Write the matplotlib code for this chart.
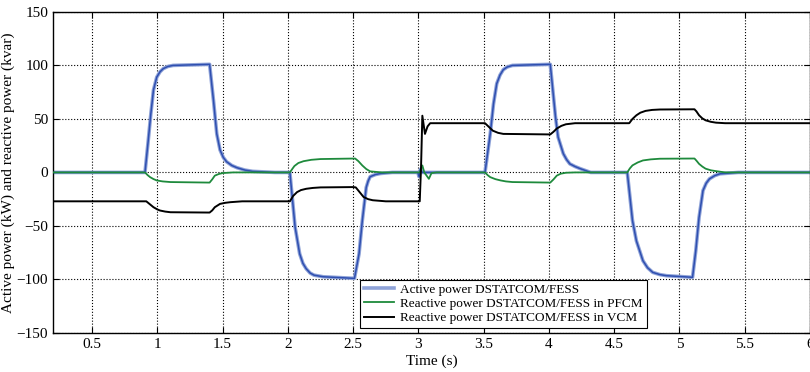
import matplotlib
matplotlib.use('Agg')
import matplotlib.pyplot as plt
from matplotlib.ticker import FuncFormatter

plt.rcParams['font.family'] = ['Liberation Serif', 'DejaVu Serif']

# active power DSTATCOM/FESS (kW)
t_p = [0.2, 0.905, 0.93, 0.95, 0.97, 0.995, 1.02, 1.045, 1.08, 1.12, 1.40, 1.43, 1.455,
       1.48, 1.505, 1.53, 1.57, 1.61, 1.67, 1.73, 1.9, 2.015, 2.055, 2.09, 2.115, 2.14,
       2.17, 2.2, 2.27, 2.35, 2.51, 2.545, 2.57, 2.60, 2.615, 2.63, 2.67, 2.71, 2.8,
       2.995, 3.005, 3.015, 3.03, 3.51, 3.55, 3.575, 3.60, 3.625, 3.65, 3.68, 3.72,
       4.01, 4.05, 4.07, 4.11, 4.135, 4.16, 4.2, 4.24, 4.32, 4.60, 4.64, 4.67, 4.72,
       4.755, 4.795, 4.85, 4.90, 5.10, 5.125, 5.15, 5.18, 5.205, 5.23, 5.27, 5.31,
       5.45, 6.0]
p_active = [0, 0, 30, 55, 77, 89, 94, 97, 99, 100, 101, 67, 36,
            21, 14, 10, 6.5, 4.4, 2.2, 1, 0, 0, -51, -76, -85, -90,
            -94, -96, -97.5, -98, -99, -76, -45, -14, -8, -4, -2, -1, 0,
            0, -4, 3, 0, 0, 36, 64, 83, 91, 96, 98.5, 100,
            101, 52, 33, 17.5, 12, 8, 5.5, 3.5, 0, 0, -45, -64, -82.5,
            -89, -93.4, -95.5, -96.5, -98, -73, -42, -17, -10, -6, -3, -1.3,
            0, 0]

# reactive power in PFCM (kvar)
t_q1 = [0.2, 0.905, 0.925, 0.944, 0.97, 0.995, 1.04, 1.10, 1.40, 1.42, 1.44, 1.47, 1.50,
        1.58, 2.015, 2.035, 2.05, 2.08, 2.12, 2.18, 2.25, 2.515, 2.54, 2.57, 2.60, 2.63,
        2.72, 3.01, 3.03, 3.045, 3.08, 3.10, 3.14, 3.51, 3.53, 3.55, 3.59, 3.63, 3.67,
        3.72, 4.01, 4.035, 4.06, 4.09, 4.13, 4.2, 4.60, 4.62, 4.64, 4.68, 4.72, 4.78,
        4.85, 5.115, 5.13, 5.15, 5.175, 5.20, 5.24, 5.28, 5.35, 6.0]
q_pfcm = [0, 0, -2.5, -4.4, -6.2, -7.5, -8.4, -9, -9.5, -6.5, -3, -1.5, -0.6,
          0, 0, 3.5, 6, 8.8, 10.5, 11.8, 12.5, 13, 10.5, 6.5, 3.2, 1,
          0, 0, 6.5, 0, -6, -0.6, 0, 0, -2.5, -4.4, -6.3, -7.5, -8.4,
          -9, -9.5, -6.5, -3, -1.2, -0.3, 0, 0, 3.8, 6.6, 9.3, 11.2, 12.2,
          12.8, 13, 11, 8, 5.5, 3.5, 2, 1.2, 0, 0]

# reactive power in VCM (kvar)
t_q2 = [0.2, 0.915, 0.94, 0.97, 1.0, 1.02, 1.06, 1.10, 1.40, 1.42, 1.44, 1.48, 1.52,
        1.56, 1.65, 2.015, 2.04, 2.07, 2.10, 2.14, 2.19, 2.25, 2.50, 2.52, 2.55, 2.58,
        2.615, 2.65, 2.75, 3.01, 3.02, 3.03, 3.05, 3.07, 3.09, 3.51, 3.54, 3.57, 3.61,
        3.65, 4.01, 4.035, 4.06, 4.095, 4.13, 4.2, 4.615, 4.64, 4.67, 4.70, 4.74, 4.79,
        4.85, 5.115, 5.13, 5.15, 5.175, 5.20, 5.24, 5.28, 5.35, 6.0]
q_vcm = [-27, -27, -29.5, -32.5, -34.6, -35.6, -36.6, -37.2, -37.5, -35.5, -32.5, -29.4, -28.4,
         -27.8, -27, -27, -22, -18.4, -16.5, -15.3, -14.5, -14, -13.7, -14, -18.5, -23,
         -25, -26, -27, -27, 5, 53, 36, 43, 46, 46, 42.5, 39, 37, 36,
         35.5, 38, 41, 43.5, 45, 46, 46, 50, 53.4, 55.8, 57.5, 58.4,
         58.8, 59, 57, 53.4, 50.5, 48.7, 47.3, 46.5, 46, 46]

labels = ['Active power DSTATCOM/FESS',
          'Reactive power DSTATCOM/FESS in PFCM',
          'Reactive power DSTATCOM/FESS in VCM']

fig = plt.figure(figsize=(8.1, 3.72), dpi=100)
ax = fig.add_axes([0.0654, 0.105, 0.9346, 0.863])

ax.plot(t_p, p_active, color='#8fa3d8', lw=2.6, label=labels[0], zorder=2)
ax.plot(t_p, p_active, color='#2f4fb0', lw=1.1, zorder=3)
ax.plot(t_q1, q_pfcm, color='#1e8a3c', lw=1.3, label=labels[1], zorder=4)
ax.plot(t_q2, q_vcm, color='black', lw=1.4, label=labels[2], zorder=5)

ax.set_xlim(0.2, 6)
ax.set_ylim(-150, 150)
ax.set_xticks([0.5, 1, 1.5, 2, 2.5, 3, 3.5, 4, 4.5, 5, 5.5, 6])
ax.set_yticks([-150, -100, -50, 0, 50, 100, 150])
ax.xaxis.set_major_formatter(FuncFormatter(lambda v, p: '%g' % v))
ax.tick_params(direction='in', labelsize=11, length=4, top=True, right=True)
ax.grid(True, color='black', linestyle=':', linewidth=0.8)
for s in ax.spines.values():
    s.set_linewidth(1.0)

ax.set_xlabel('Time (s)', fontsize=11, labelpad=3)
ax.set_ylabel('Active power (kW) and reactive power (kvar)', fontsize=11, labelpad=1)

leg = ax.legend(loc='lower left', bbox_to_anchor=(0.405, 0.015), fontsize=9.5,
                frameon=True, fancybox=False, edgecolor='black', framealpha=1,
                handlelength=2.3, borderpad=0.3, labelspacing=0.15, handletextpad=0.5,
                borderaxespad=0)
leg.get_frame().set_linewidth(0.8)

fig.savefig('out.png', dpi=100)
